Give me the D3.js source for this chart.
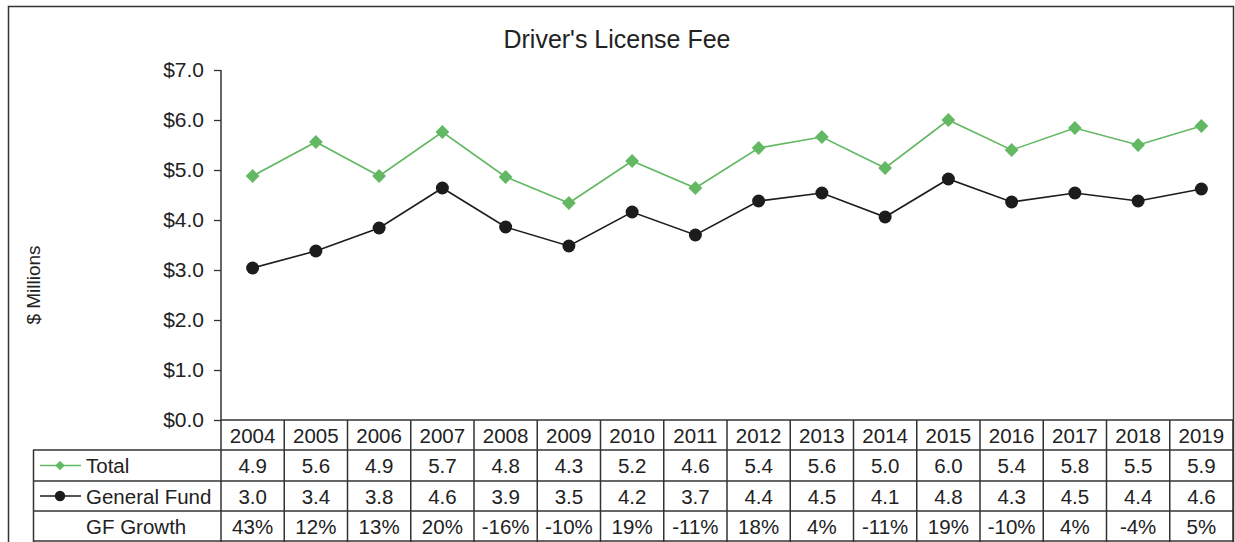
<!DOCTYPE html>
<html>
<head>
<meta charset="utf-8">
<script src="https://cdn.jsdelivr.net/npm/d3@7"></script>
<style>
  body { margin: 0; background: #fff; }
  svg { display: block; font-family: "Liberation Sans", Arial, sans-serif; }
</style>
</head>
<body>
<div id="chart"></div>
<script>
// values
var years = ["2004", "2005", "2006", "2007", "2008", "2009", "2010", "2011",
             "2012", "2013", "2014", "2015", "2016", "2017", "2018", "2019"];
var total = [4.88, 5.56, 4.88, 5.76, 4.86, 4.34, 5.18, 4.64, 5.44, 5.66, 5.04, 6.0, 5.4, 5.84, 5.5, 5.88];
var generalFund = [3.04, 3.38, 3.84, 4.64, 3.86, 3.48, 4.16, 3.7, 4.38, 4.54, 4.06, 4.82, 4.36, 4.54, 4.38, 4.62];
var totalLabels = ["4.9", "5.6", "4.9", "5.7", "4.8", "4.3", "5.2", "4.6", "5.4", "5.6", "5.0", "6.0", "5.4", "5.8", "5.5", "5.9"];
var gfLabels = ["3.0", "3.4", "3.8", "4.6", "3.9", "3.5", "4.2", "3.7", "4.4", "4.5", "4.1", "4.8", "4.3", "4.5", "4.4", "4.6"];
var gfGrowth = ["43%", "12%", "13%", "20%", "-16%", "-10%", "19%", "-11%", "18%", "4%", "-11%", "19%", "-10%", "4%", "-4%", "5%"];
var yTicks = [0, 1, 2, 3, 4, 5, 6, 7];

function main() {
    const width = 1235;
    const height = 542;
    const green = "#63b863";
    const dark = "#1c1c1c";
    const lineCol = "#333";
    const fs = "20.5px";

    var svg = d3.select("#chart").append("svg")
        .attr("width", width)
        .attr("height", height);

    // outer frame
    svg.append("rect")
        .attr("x", 8.5).attr("y", 6.5)
        .attr("width", 1225).attr("height", 560)
        .attr("fill", "none")
        .attr("stroke", lineCol)
        .attr("stroke-width", 1.5);

    var x = d3.scaleBand().domain(years).range([221, 1233]).padding(0);
    var y = d3.scaleLinear().domain([0, 7]).range([420, 70]);

    svg.append("text")
        .text("Driver's License Fee")
        .attr("x", 617).attr("y", 48)
        .attr("text-anchor", "middle")
        .attr("font-size", "25px")
        .attr("fill", "#222");

    svg.append("text")
        .text("$ Millions")
        .attr("transform", "translate(40,285) rotate(-90)")
        .attr("text-anchor", "middle")
        .attr("font-size", "19px")
        .attr("fill", "#222");

    // y axis
    var yAxis = svg.append("g")
        .attr("transform", "translate(221,0)")
        .call(d3.axisLeft(y).tickValues(yTicks).tickSize(7).tickPadding(10)
            .tickFormat(function (d) { return "$" + d3.format(".1f")(d); }));
    yAxis.select(".domain").remove();
    yAxis.selectAll("line").attr("stroke", lineCol).attr("stroke-width", 1.3);
    yAxis.selectAll("text")
        .attr("font-size", "21px")
        .attr("fill", "#222")
        .attr("dy", "0.3em")
        .style("font-family", "\"Liberation Sans\", Arial, sans-serif");
    svg.append("line")
        .attr("x1", 221).attr("x2", 221)
        .attr("y1", y(7)).attr("y2", 542)
        .attr("stroke", lineCol).attr("stroke-width", 1.5);

    // table
    var rowTop = [420, 450, 481, 511, 541];
    var table = svg.append("g");
    table.append("line")
        .attr("x1", 221).attr("x2", 1233).attr("y1", rowTop[0]).attr("y2", rowTop[0])
        .attr("stroke", lineCol).attr("stroke-width", 1.5);
    rowTop.slice(1).forEach(function (r) {
        table.append("line")
            .attr("x1", 33).attr("x2", 1233).attr("y1", r).attr("y2", r)
            .attr("stroke", lineCol).attr("stroke-width", 1.5);
    });
    table.append("line")
        .attr("x1", 33.5).attr("x2", 33.5).attr("y1", rowTop[1]).attr("y2", 542)
        .attr("stroke", lineCol).attr("stroke-width", 1.5);
    years.forEach(function (yr) {
        table.append("line")
            .attr("x1", x(yr) + x.bandwidth()).attr("x2", x(yr) + x.bandwidth())
            .attr("y1", rowTop[0]).attr("y2", 542)
            .attr("stroke", lineCol).attr("stroke-width", 1.5);
    });

    var rows = [years, totalLabels, gfLabels, gfGrowth];
    rows.forEach(function (vals, i) {
        table.selectAll(null)
            .data(vals)
            .enter()
            .append("text")
            .text(function (d) { return d; })
            .attr("x", function (d, j) { return x(years[j]) + x.bandwidth() / 2; })
            .attr("y", (rowTop[i] + rowTop[i + 1]) / 2 + 7.5)
            .attr("text-anchor", "middle")
            .attr("font-size", fs)
            .attr("fill", "#222");
    });

    // legend cells
    var diamond = function (size) {
        return d3.symbol().type(d3.symbolSquare).size(size);
    };
    var ly1 = (rowTop[1] + rowTop[2]) / 2;
    var ly2 = (rowTop[2] + rowTop[3]) / 2;
    table.append("line").attr("x1", 40).attr("x2", 81).attr("y1", ly1).attr("y2", ly1)
        .attr("stroke", green).attr("stroke-width", 1.5);
    table.append("path").attr("d", diamond(45))
        .attr("transform", "translate(60," + ly1 + ") rotate(45)").attr("fill", green);
    table.append("line").attr("x1", 40).attr("x2", 81).attr("y1", ly2).attr("y2", ly2)
        .attr("stroke", dark).attr("stroke-width", 1.5);
    table.append("path").attr("d", d3.symbol().type(d3.symbolCircle).size(85))
        .attr("transform", "translate(60," + ly2 + ")").attr("fill", dark);
    var legendNames = ["Total", "General Fund", "GF Growth"];
    legendNames.forEach(function (n, i) {
        table.append("text")
            .text(n)
            .attr("x", 86)
            .attr("y", (rowTop[i + 1] + rowTop[i + 2]) / 2 + 7.5)
            .attr("font-size", fs)
            .attr("fill", "#222");
    });

    // series
    var cx = function (d, i) { return x(years[i]) + x.bandwidth() / 2; };
    var line = d3.line().x(cx).y(function (d) { return y(d); });

    svg.append("path")
        .datum(total)
        .attr("d", line)
        .attr("fill", "none")
        .attr("stroke", green)
        .attr("stroke-width", 1.6);
    svg.selectAll(".tot")
        .data(total)
        .enter()
        .append("path")
        .attr("class", "tot")
        .attr("d", diamond(95))
        .attr("transform", function (d, i) { return "translate(" + cx(d, i) + "," + y(d) + ") rotate(45)"; })
        .attr("fill", green);

    svg.append("path")
        .datum(generalFund)
        .attr("d", line)
        .attr("fill", "none")
        .attr("stroke", dark)
        .attr("stroke-width", 1.6);
    svg.selectAll(".gf")
        .data(generalFund)
        .enter()
        .append("circle")
        .attr("class", "gf")
        .attr("cx", cx)
        .attr("cy", function (d) { return y(d); })
        .attr("r", 6.5)
        .attr("fill", dark);
}
main();
</script>
</body>
</html>
